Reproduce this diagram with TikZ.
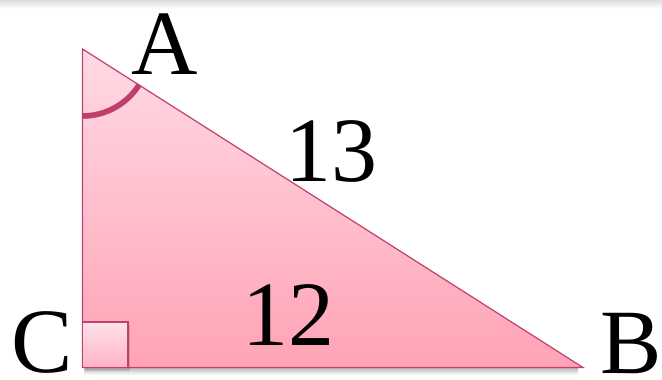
\documentclass[tikz,border=0pt]{standalone}
\usepackage{fontspec}
\setmainfont{Liberation Serif}
\definecolor{edge}{RGB}{192,64,110}
\definecolor{arcc}{RGB}{190,62,108}
\definecolor{toppink}{RGB}{255,218,228}
\definecolor{botpink}{RGB}{255,163,181}
\definecolor{sqtop}{RGB}{255,226,234}
\definecolor{sqbot}{RGB}{255,178,196}
\begin{document}
\begin{tikzpicture}[x=1pt,y=-1pt,
  lbl/.style={font=\fontsize{92}{92}\selectfont, inner sep=0pt, anchor=base},
  side/.style={draw=edge, line width=1.2pt, top color=toppink, bottom color=botpink},
  rightmark/.style={draw=edge, line width=1.6pt, top color=sqtop, bottom color=sqbot},
  anglemark/.style={draw=arcc, line width=5.5pt}]
\useasboundingbox (0,0) rectangle (662,380);
% faint band at the top
\shade[top color=black!13, bottom color=white, draw=none] (0,0) rectangle (662,9);
\coordinate (A) at (82.5,49);
\coordinate (C) at (82.5,367.5);
\coordinate (B) at (583,367.5);
% soft shadow below the base
\shade[top color=black!28, bottom color=white, draw=none] (84,367.5) rectangle (578,375);
\fill[black, opacity=0.06, shift={(2,4)}] (A) -- (C) -- (B) -- cycle;
% triangle
\path[side] (A) -- (C) -- (B) -- cycle;
% right-angle mark
\fill[black, opacity=0.12] ([shift={(2,3)}]C) rectangle ++(45.5,-45.5);
\path[rightmark] (C) rectangle ++(45.5,-45.5);
% angle mark at A
\draw[black, opacity=0.10, line width=6pt, shift={(1,2)}] (A) ++(0,67) arc[start angle=90, end angle=33, radius=67];
\draw[anglemark] (A) ++(0,67) arc[start angle=90, end angle=32.5, radius=67];
% labels
\node[lbl] (lA) at (165,74) {A};
\node[lbl] (l13) at (331,181) {13};
\node[lbl] (l12) at (288,345) {12};
\node[lbl] (lC) at (42,372) {C};
\node[lbl] (lB) at (631.5,373) {B};
\end{tikzpicture}
\end{document}
